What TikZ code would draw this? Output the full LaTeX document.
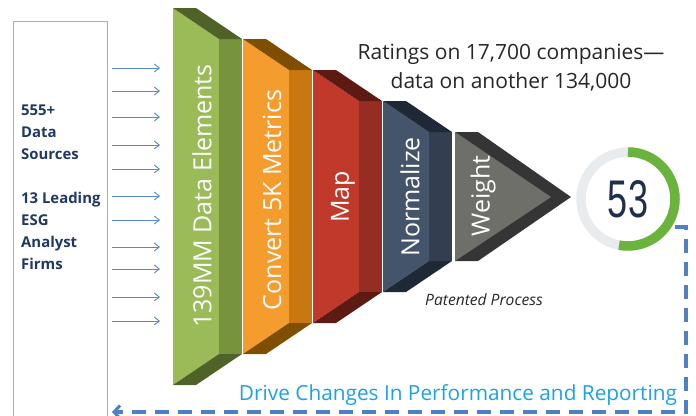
\documentclass[tikz,border=0pt]{standalone}
\usepackage{fontspec}
\setmainfont{Open Sans}
\newfontfamily\numfont{Liberation Sans}
\usepackage{tikz}
\usetikzlibrary{arrows.meta}

\definecolor{grnF}{HTML}{9BBB59}
\definecolor{grnS}{HTML}{77933C}
\definecolor{grnD}{HTML}{4F6228}
\definecolor{orgF}{HTML}{F49D2E}
\definecolor{orgS}{HTML}{C9770F}
\definecolor{orgD}{HTML}{7F4E00}
\definecolor{rdF}{HTML}{C0392B}
\definecolor{rdS}{HTML}{952D22}
\definecolor{rdD}{HTML}{5C1A12}
\definecolor{navF}{HTML}{44546A}
\definecolor{navS}{HTML}{333F50}
\definecolor{navD}{HTML}{1E2836}
\definecolor{wgtF}{HTML}{6F6F69}
\definecolor{wgtD}{HTML}{353535}
\definecolor{boxline}{HTML}{95B3D7}
\definecolor{feedblue}{HTML}{5A8AC6}
\definecolor{loopblue}{HTML}{4F7FC4}
\definecolor{srcnavy}{HTML}{1F3864}
\definecolor{drivecyan}{HTML}{1BA1E6}
\definecolor{ringgray}{HTML}{E8ECEE}
\definecolor{ringgreen}{HTML}{6AB43E}
\definecolor{scorenavy}{HTML}{1F2D4E}

\begin{document}
\begin{tikzpicture}[x=1pt,y=-1pt,
		stage/.style={rotate=90,text=white,inner sep=0pt,
			font=\fontsize{25}{27}\selectfont},
		feed/.style={draw=feedblue,line width=0.9pt,
			-{Straight Barb[length=5pt,width=8pt]}},
		feedback/.style={draw=loopblue,line width=4pt,
			dash pattern=on 14pt off 9pt,
			-{Straight Barb[length=6pt,width=13pt,line width=3pt]}},
		ring/.style={line width=9.5pt}]
	
	\useasboundingbox (0,0) rectangle (696,415);
	\clip (0,0) rectangle (696,415);
	
	% sources
	\node[draw=boxline,line width=0.8pt,anchor=north west,inner sep=0pt,
		minimum width=94pt,minimum height=400pt] (sources) at (13,21) {};
	\node[anchor=north west,align=left,inner sep=0pt,text=srcnavy,
		font=\fontsize{14.9}{22}\selectfont\bfseries] (sourcetext) at (21,105)
		{555+\\Data\\Sources\\[22pt]13 Leading\\ESG\\Analyst\\Firms};
	\coordinate (intake) at (160,0);
	\foreach \y in {68,91,117,145,169,196,220,247,269,297,321}
		\draw[feed] (sources.east |- 0,\y) ++(4,0) -- (intake |- 0,\y);
	
	% funnel blocks
	\foreach \k/\c in {0/grn,1/org,2/rd,3/nav} {
		\pgfmathsetmacro{\l}{173+70*\k}
		\pgfmathsetmacro{\t}{8+31*\k}
		\pgfmathsetmacro{\b}{385-31*\k}
		\fill[\c F] (\l,\t) -- (\l+46,\t+31) -- (\l+46,\b-31) -- (\l,\b) -- cycle;
		\fill[\c S] (\l+46,\t+31) rectangle (\l+69,\b-31);
		\fill[\c D] (\l,\t) -- (\l+23,\t) -- (\l+69,\t+31) -- (\l+46,\t+31) -- cycle;
		\fill[\c D] (\l,\b) -- (\l+23,\b) -- (\l+69,\b-31) -- (\l+46,\b-31) -- cycle;
	}
	\fill[wgtD] (455,132) -- (478,132) -- (571,197) -- (478,261) -- (455,261) -- cycle;
	\fill[wgtF] (455,132) -- (551,197) -- (455,261) -- cycle;
	
	\node[stage] (elements) at (202,196) {139MM Data Elements};
	\node[stage] (convert) at (272,200) {Convert 5K Metrics};
	\node[stage] (map) at (343,197) {Map};
	\node[stage] (normalize) at (410,197) {Normalize};
	\node[stage] (weight) at (483,196) {Weight};
	
	\node[anchor=north,align=center,inner sep=0pt,text=black!85,
		font=\fontsize{21}{29}\selectfont] (ratings) at (511,44)
		{Ratings on 17,700 companies---\\data on another 134,000};
	\node[anchor=base,inner sep=0pt,text=black!85,
		font=\fontsize{15.6}{18}\selectfont\itshape] (patented) at (484,305)
		{Patented Process};
	
	% score
	\node[inner sep=0pt,text=scorenavy,xscale=0.68,
		font=\fontsize{53}{53}\selectfont\numfont] (score) at (628,199) {53};
	\draw[ring,ringgray] (score.center) circle[radius=47pt];
	\draw[ring,ringgreen] (score.center) ++(90:47pt)
		arc[start angle=90,end angle=-101,radius=47pt];
	
	% loop back
	\coordinate (fbstart) at (675,227);
	\coordinate (fbend) at (112,412);
	\draw[feedback] (fbstart) -- ++(11,0) |- (fbend);
	\node[anchor=base,inner sep=0pt,text=drivecyan,
		font=\fontsize{20.8}{24}\selectfont] (drive) at (458,400)
		{Drive Changes In Performance and Reporting};
\end{tikzpicture}
\end{document}
